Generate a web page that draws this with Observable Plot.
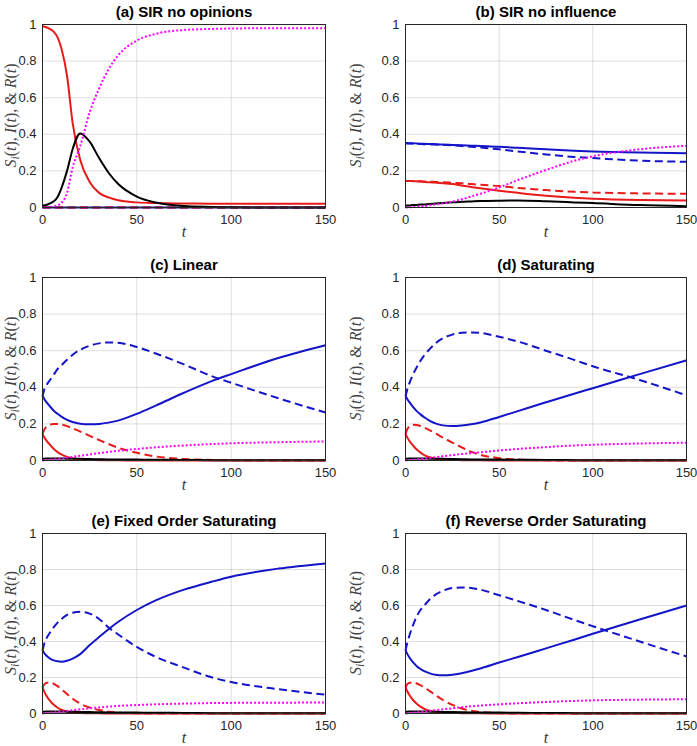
<!DOCTYPE html>
<html><head><meta charset="utf-8">
<script src="https://cdn.jsdelivr.net/npm/d3@7"></script>
<script src="https://cdn.jsdelivr.net/npm/@observablehq/plot@0.6"></script>
<style>
body{margin:0;background:#fff;}
#wrap{position:relative;width:697px;height:746px;overflow:hidden;background:#fff;}
.panel{position:absolute;}
</style></head><body><div id="wrap"></div>
<script>
// time grid shared by all panels
const T = [0,1,2,4,6,8,10,13,16,20,25,30,35,40,50,60,75,90,100,125,150];
const xTicks = [0,50,100,150];
const yTicks = [0,0.2,0.4,0.6,0.8,1];
const titles = ["(a) SIR no opinions","(b) SIR no influence","(c) Linear","(d) Saturating","(e) Fixed Order Saturating","(f) Reverse Order Saturating"];

// (a)
const aBlueSolid  = [0,0,0,0,0,0,0,0,0,0,0,0,0,0,0,0,0,0,0,0,0];
const aBlueDashed = [0,0,0,0,0,0,0,0,0,0,0,0,0,0,0,0,0,0,0,0,0];
const aRedSolid   = [0.99,0.988,0.985,0.975,0.96,0.93,0.87,0.72,0.46,0.26,0.14,0.08,0.055,0.04,0.028,0.024,0.022,0.021,0.021,0.02,0.02];
const aRedDashed  = [0,0,0,0,0,0,0,0,0,0,0,0,0,0,0,0,0,0,0,0,0];
const aInfected   = [0.01,0.012,0.014,0.022,0.034,0.058,0.105,0.2,0.32,0.405,0.36,0.27,0.19,0.13,0.06,0.027,0.008,0.003,0.001,0,0];
const aRecovered  = [0,0,0.001,0.003,0.006,0.012,0.025,0.08,0.22,0.335,0.52,0.65,0.755,0.83,0.912,0.949,0.97,0.976,0.978,0.98,0.98];
// (b)
const bBlueSolid  = [0.352,0.352,0.351,0.351,0.35,0.349,0.348,0.347,0.346,0.344,0.342,0.34,0.338,0.336,0.332,0.326,0.318,0.31,0.306,0.3,0.297];
const bBlueDashed = [0.35,0.35,0.35,0.349,0.348,0.347,0.346,0.345,0.344,0.342,0.34,0.336,0.332,0.328,0.318,0.306,0.29,0.276,0.27,0.256,0.25];
const bRedSolid   = [0.145,0.145,0.145,0.144,0.143,0.142,0.14,0.138,0.136,0.133,0.128,0.12,0.112,0.105,0.092,0.08,0.064,0.053,0.048,0.041,0.038];
const bRedDashed  = [0.145,0.145,0.145,0.145,0.144,0.143,0.142,0.141,0.14,0.138,0.135,0.132,0.128,0.124,0.117,0.107,0.095,0.086,0.082,0.077,0.075];
const bInfected   = [0.01,0.011,0.011,0.013,0.014,0.016,0.017,0.019,0.022,0.025,0.028,0.031,0.033,0.035,0.037,0.038,0.034,0.028,0.024,0.013,0.007];
const bRecovered  = [0,0.0005,0.001,0.002,0.004,0.006,0.008,0.012,0.016,0.022,0.032,0.045,0.06,0.075,0.11,0.15,0.205,0.255,0.28,0.318,0.337];
// (c)
const cBlueSolid  = [0.352,0.335,0.32,0.295,0.272,0.255,0.24,0.222,0.21,0.201,0.198,0.2,0.207,0.218,0.255,0.3,0.37,0.435,0.472,0.56,0.63];
const cBlueDashed = [0.35,0.39,0.41,0.44,0.47,0.5,0.52,0.55,0.578,0.605,0.627,0.64,0.645,0.643,0.62,0.585,0.525,0.46,0.425,0.34,0.262];
const cRedSolid   = [0.145,0.125,0.11,0.085,0.063,0.046,0.033,0.02,0.012,0.006,0.003,0.002,0.001,0.001,0,0,0,0,0,0,0];
const cRedDashed  = [0.145,0.17,0.183,0.196,0.2,0.2,0.197,0.188,0.176,0.158,0.135,0.112,0.09,0.07,0.042,0.022,0.008,0.003,0.001,0,0];
const cInfected   = [0.01,0.01,0.011,0.011,0.011,0.011,0.011,0.01,0.01,0.009,0.008,0.007,0.006,0.006,0.005,0.004,0.003,0.002,0.002,0.001,0.001];
const cRecovered  = [0,0.001,0.002,0.004,0.006,0.008,0.011,0.015,0.02,0.026,0.033,0.04,0.047,0.053,0.063,0.072,0.082,0.09,0.094,0.1,0.104];
// (d)
const dBlueSolid  = [0.352,0.335,0.32,0.293,0.27,0.252,0.236,0.217,0.203,0.192,0.188,0.191,0.198,0.208,0.238,0.27,0.318,0.365,0.395,0.472,0.547];
const dBlueDashed = [0.35,0.39,0.42,0.47,0.51,0.545,0.575,0.61,0.64,0.668,0.688,0.698,0.7,0.697,0.676,0.65,0.6,0.55,0.515,0.44,0.356];
const dRedSolid   = [0.145,0.125,0.108,0.082,0.06,0.043,0.03,0.018,0.01,0.005,0.003,0.002,0.001,0.001,0,0,0,0,0,0,0];
const dRedDashed  = [0.145,0.172,0.185,0.195,0.194,0.188,0.18,0.165,0.148,0.125,0.098,0.072,0.048,0.031,0.013,0.005,0.001,0,0,0,0];
const dInfected   = [0.01,0.01,0.011,0.011,0.011,0.011,0.011,0.01,0.01,0.009,0.008,0.007,0.006,0.006,0.005,0.004,0.003,0.002,0.002,0.001,0.001];
const dRecovered  = [0,0.001,0.002,0.004,0.006,0.008,0.01,0.014,0.018,0.023,0.029,0.035,0.04,0.045,0.055,0.063,0.073,0.082,0.086,0.093,0.097];
// (e)
const eBlueSolid  = [0.352,0.335,0.322,0.305,0.295,0.29,0.288,0.293,0.305,0.33,0.38,0.425,0.468,0.508,0.575,0.628,0.688,0.733,0.76,0.805,0.834];
const eBlueDashed = [0.35,0.39,0.415,0.45,0.48,0.505,0.525,0.548,0.56,0.565,0.555,0.525,0.478,0.44,0.37,0.315,0.255,0.2,0.175,0.135,0.105];
const eRedSolid   = [0.145,0.12,0.1,0.07,0.048,0.032,0.021,0.011,0.006,0.003,0.001,0.001,0,0,0,0,0,0,0,0,0];
const eRedDashed  = [0.145,0.162,0.17,0.172,0.165,0.152,0.135,0.108,0.082,0.055,0.033,0.019,0.01,0.005,0.001,0,0,0,0,0,0];
const eInfected   = [0.01,0.01,0.011,0.011,0.011,0.011,0.011,0.01,0.01,0.009,0.008,0.007,0.006,0.006,0.005,0.004,0.003,0.002,0.002,0.001,0.001];
const eRecovered  = [0,0.001,0.002,0.004,0.006,0.008,0.01,0.014,0.018,0.023,0.029,0.034,0.038,0.042,0.047,0.051,0.055,0.058,0.059,0.06,0.061];
// (f)
const fBlueSolid  = [0.352,0.33,0.312,0.285,0.263,0.247,0.235,0.223,0.215,0.212,0.215,0.224,0.236,0.25,0.283,0.314,0.362,0.41,0.443,0.522,0.6];
const fBlueDashed = [0.35,0.395,0.43,0.49,0.54,0.575,0.6,0.635,0.66,0.682,0.697,0.7,0.697,0.688,0.657,0.625,0.575,0.52,0.485,0.4,0.317];
const fRedSolid   = [0.145,0.122,0.104,0.075,0.054,0.038,0.026,0.015,0.009,0.005,0.003,0.002,0.001,0.001,0,0,0,0,0,0,0];
const fRedDashed  = [0.145,0.163,0.17,0.172,0.167,0.157,0.145,0.124,0.102,0.075,0.048,0.028,0.015,0.008,0.002,0,0,0,0,0,0];
const fInfected   = [0.01,0.01,0.011,0.011,0.011,0.011,0.011,0.01,0.01,0.009,0.008,0.007,0.006,0.006,0.005,0.004,0.003,0.002,0.002,0.001,0.001];
const fRecovered  = [0,0.001,0.002,0.004,0.006,0.008,0.01,0.014,0.018,0.023,0.029,0.035,0.04,0.044,0.051,0.057,0.064,0.07,0.073,0.077,0.079];

const panelSeries = [
  [aBlueSolid,aBlueDashed,aRedSolid,aRedDashed,aInfected,aRecovered],
  [bBlueSolid,bBlueDashed,bRedSolid,bRedDashed,bInfected,bRecovered],
  [cBlueSolid,cBlueDashed,cRedSolid,cRedDashed,cInfected,cRecovered],
  [dBlueSolid,dBlueDashed,dRedSolid,dRedDashed,dInfected,dRecovered],
  [eBlueSolid,eBlueDashed,eRedSolid,eRedDashed,eInfected,eRecovered],
  [fBlueSolid,fBlueDashed,fRedSolid,fRedDashed,fInfected,fRecovered]
];
const styles = [
  {stroke:"#1414c8", dash:null},
  {stroke:"#1414c8", dash:"8,4.5"},
  {stroke:"#e81a1a", dash:null},
  {stroke:"#e81a1a", dash:"8,4.5"},
  {stroke:"#000000", dash:null},
  {stroke:"#ff00ff", dash:"2,2"}
];

const rows = [{top:0,h:250,mt:24,mb:43},{top:253,h:250,mt:24,mb:43},{top:509,h:237,mt:24,mb:33}];
const cols = [{left:0,w:340,ml:42,mr:15,labX:16},{left:340,w:357,ml:65,mr:11,labX:21}];

const wrap = document.getElementById("wrap");
panelSeries.forEach((series, p) => {
  const r = rows[Math.floor(p/2)], c = cols[p%2];
  const marks = [
    Plot.gridX(xTicks, {stroke:"#000", strokeOpacity:0.13}),
    Plot.gridY(yTicks, {stroke:"#000", strokeOpacity:0.13}),
    ...series.map((vals, k) => Plot.line(vals.map((v,i)=>({t:T[i], v})), {
      x:"t", y:"v", stroke:styles[k].stroke, strokeWidth:2,
      strokeDasharray:styles[k].dash, strokeLinecap:"butt", curve:"monotone-x"
    })),
    Plot.frame({stroke:"#262626", strokeWidth:1}),
    Plot.axisX(xTicks, {tickSize:0, tickPadding:7, label:null, tickFormat:d=>String(d)}),
    Plot.axisY(yTicks, {tickSize:0, tickPadding:6, label:null, tickFormat:d=>String(d)}),
    Plot.text([titles[p]], {frameAnchor:"top", dy:-8, lineAnchor:"bottom", fontWeight:"bold", fontSize:15, fill:"#000"}),
    Plot.text(["t"], {frameAnchor:"bottom", dy:29, fontStyle:"italic", fontFamily:"'Liberation Serif', serif", fontSize:16, fill:"#333"})
  ];
  const svg = Plot.plot({
    width:c.w, height:r.h,
    marginTop:r.mt, marginBottom:r.mb, marginLeft:c.ml, marginRight:c.mr,
    x:{domain:[0,150]}, y:{domain:[0,1]},
    style:{fontFamily:"'Liberation Sans', Arial, sans-serif", fontSize:"13px", color:"#262626", background:"transparent"},
    marks
  });
  // y-axis label with italic math and subscript
  const cy = r.mt + (r.h - r.mt - r.mb)/2;
  const lab = d3.select(svg).append("text")
    .attr("transform", `translate(${c.labX},${cy}) rotate(-90)`)
    .attr("text-anchor","middle")
    .attr("font-family","'Liberation Serif', serif")
    .attr("font-size",16).attr("fill","#444");
  const parts = [["S","i"],["i","sub"],["(","n"],["t","i"],["), ","n"],["I","i"],["(","n"],["t","i"],["), & ","n"],["R","i"],["(","n"],["t","i"],[")","n"]];
  let shifted = false;
  parts.forEach(([s,kind]) => {
    const ts = lab.append("tspan").text(s);
    if (kind === "i" || kind === "sub") ts.attr("font-style","italic");
    if (kind === "sub") { ts.attr("font-size",12).attr("dy",3); shifted = true; }
    else if (shifted) { ts.attr("dy",-3); shifted = false; }
  });
  const div = document.createElement("div");
  div.className = "panel";
  div.style.left = c.left + "px";
  div.style.top = r.top + "px";
  div.appendChild(svg);
  wrap.appendChild(div);
});
</script>
</body></html>
